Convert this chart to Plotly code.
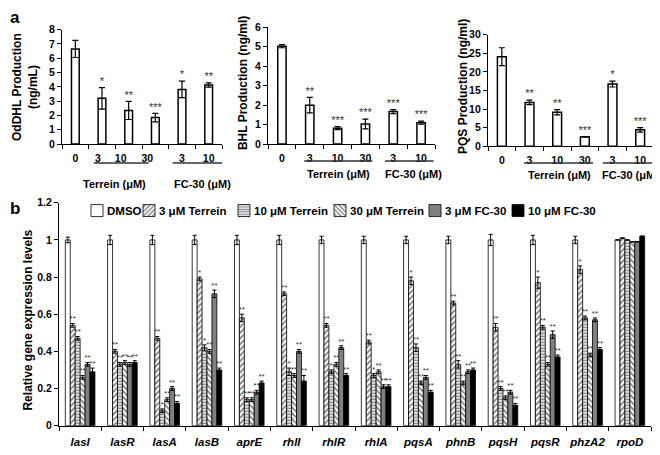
import plotly.graph_objects as go

FONT = "Liberation Sans, Arial, sans-serif"
# the page body has an 8px margin, so the figure is drawn 8px in from the corner
PAGE_W, PAGE_H, OFF = 660, 455, 8
W, H = PAGE_W - OFF, PAGE_H - OFF

# panel a: signal production
doses     = ["0", "3", "10", "30", "3", "10"]
oddhl     = [6.65, 3.20, 2.35, 1.85, 3.82, 4.13]
oddhl_err = [0.60, 0.75, 0.63, 0.30, 0.58, 0.15]
oddhl_sig = ["", "*", "**", "***", "*", "**"]
bhl       = [5.03, 2.00, 0.82, 1.03, 1.67, 1.10]
bhl_err   = [0.08, 0.40, 0.08, 0.25, 0.10, 0.08]
bhl_sig   = ["", "**", "***", "***", "***", "***"]
pqs       = [24.1, 11.8, 9.15, 2.55, 16.75, 4.45]
pqs_err   = [2.40, 0.60, 0.70, 0.10, 0.80, 0.60]
pqs_sig   = ["", "**", "**", "***", "*", "***"]

# panel b: relative gene expression
genes = ["lasI", "lasR", "lasA", "lasB", "aprE", "rhlI", "rhlR",
         "rhlA", "pqsA", "phnB", "pqsH", "pqsR", "phzA2", "rpoD"]
treatments = ["DMSO", "3 μM Terrein", "10 μM Terrein", "30 μM Terrein",
              "3 μM FC-30", "10 μM FC-30"]
dmso  = [1.00, 1.00, 1.00, 1.00, 1.00, 1.00, 1.00, 1.00, 1.00, 1.00, 1.00, 1.00, 1.00, 1.00]
t3    = [0.54, 0.40, 0.47, 0.79, 0.58, 0.71, 0.54, 0.45, 0.78, 0.66, 0.53, 0.77, 0.84, 1.01]
t10   = [0.47, 0.33, 0.08, 0.42, 0.14, 0.29, 0.29, 0.27, 0.42, 0.33, 0.20, 0.53, 0.58, 1.00]
t30   = [0.26, 0.34, 0.14, 0.40, 0.14, 0.27, 0.33, 0.29, 0.23, 0.23, 0.15, 0.33, 0.38, 0.99]
fc3   = [0.33, 0.33, 0.20, 0.71, 0.18, 0.40, 0.42, 0.21, 0.26, 0.29, 0.18, 0.49, 0.57, 0.99]
fc10  = [0.29, 0.34, 0.12, 0.30, 0.23, 0.24, 0.27, 0.21, 0.18, 0.30, 0.11, 0.37, 0.41, 1.02]
dmso_err = [0.015, 0.025, 0.025, 0.025, 0.025, 0.025, 0.02, 0.02, 0.02, 0.02, 0.03, 0.025, 0.02, 0]
t3_err   = [0.01, 0.01, 0.01, 0.01, 0.02, 0.01, 0.01, 0.01, 0.02, 0.01, 0.02, 0.03, 0.02, 0]
t10_err  = [0.01, 0.01, 0.01, 0.015, 0.01, 0.02, 0.01, 0.01, 0.02, 0.02, 0.01, 0.01, 0.01, 0]
t30_err  = [0.01, 0.01, 0.01, 0.01, 0.01, 0.01, 0.01, 0.01, 0.01, 0.01, 0.01, 0.01, 0.01, 0]
fc3_err  = [0.01, 0.01, 0.01, 0.02, 0.01, 0.01, 0.01, 0.01, 0.01, 0.01, 0.01, 0.02, 0.01, 0]
fc10_err = [0.02, 0.01, 0.01, 0.01, 0.01, 0.03, 0.01, 0.01, 0.01, 0.01, 0.01, 0.01, 0.01, 0]
dmso_sig = ["", "", "", "", "", "", "", "", "", "", "", "", "", ""]
t3_sig   = ["**", "**", "**", "*", "**", "**", "**", "**", "*", "**", "**", "*", "*", ""]
t10_sig  = ["**", "**", "*", "*", "**", "*", "*", "*", "**", "**", "**", "**", "**", ""]
t30_sig  = ["**", "**", "**", "**", "**", "**", "**", "**", "**", "**", "**", "**", "**", ""]
fc3_sig  = ["**", "**", "**", "**", "**", "**", "**", "**", "**", "**", "**", "**", "**", ""]
fc10_sig = ["**", "**", "**", "**", "**", "**", "**", "**", "**", "**", "**", "**", "**", ""]


def px_x(p):
    return (p - OFF) / W


def px_y(p):
    return 1 - (p - OFF) / H


fig = go.Figure()

# ---- panel a ----
panels = [
    (1, oddhl, oddhl_err, oddhl_sig, 0.29),
    (2, bhl, bhl_err, bhl_sig, 0.30),
    (3, pqs, pqs_err, pqs_sig, 0.32),
]
idx = list(range(len(doses)))
for n, vals, errs, sig, bw in panels:
    xa = "x" if n == 1 else f"x{n}"
    ya = "y" if n == 1 else f"y{n}"
    fig.add_trace(go.Bar(
        x=idx, y=vals, width=bw, xaxis=xa, yaxis=ya, showlegend=False,
        marker=dict(color="white", line=dict(color="black", width=1.5)),
        error_y=dict(type="data", array=errs, color="black", thickness=1.2, width=3),
    ))
    fig.add_trace(go.Scatter(
        x=idx, y=[v + e for v, e in zip(vals, errs)], text=sig, mode="text",
        textposition="top center", textfont=dict(family=FONT, size=11, color="#333"),
        xaxis=xa, yaxis=ya, showlegend=False, cliponaxis=False,
    ))

# ---- panel b ----
series = [
    (dmso, dmso_err, dmso_sig, dict(color="white")),
    (t3, t3_err, t3_sig, dict(color="white", pattern=dict(shape="/", fgcolor="black", size=4, solidity=0.45))),
    (t10, t10_err, t10_sig, dict(color="white", pattern=dict(shape="-", fgcolor="black", size=3, solidity=0.5))),
    (t30, t30_err, t30_sig, dict(color="white", pattern=dict(shape="\\", fgcolor="black", size=4, solidity=0.45))),
    (fc3, fc3_err, fc3_sig, dict(color="#808080")),
    (fc10, fc10_err, fc10_sig, dict(color="black")),
]
for k, (name, (vals, errs, sig, mk)) in enumerate(zip(treatments, series)):
    mk = dict(mk, line=dict(color="black", width=0.8))
    # legend entries carry only the swatch; their labels are annotations below
    fig.add_trace(go.Bar(
        x=genes, y=vals, name="", xaxis="x4", yaxis="y4", marker=mk, offsetgroup=name,
        legend="legend" if k == 0 else f"legend{k + 1}", hovertext=name,
        error_y=dict(type="data", array=errs, color="black", thickness=1, width=2),
    ))
    fig.add_trace(go.Scatter(
        x=genes, y=[v + e for v, e in zip(vals, errs)], text=sig, mode="text",
        textposition="top center", textfont=dict(family=FONT, size=8, color="#333"),
        xaxis="x4", yaxis="y4", showlegend=False, cliponaxis=False, offsetgroup=name,
    ))

tickfont = dict(family=FONT, size=10.5, color="black", weight="bold")
line_kw = dict(showline=True, linecolor="black", linewidth=1.3, showgrid=False, zeroline=False)


def xa_panel(dom, anchor, shift=(0, 0, 0, 0, 0, 0)):
    # shift nudges the dose labels, which sit a little left of the bars in panel 1
    return dict(
        domain=[px_x(dom[0]), px_x(dom[1])], anchor=anchor, range=[-0.5, 5.5],
        tickmode="array", tickvals=[i + s for i, s in zip(idx, shift)], ticktext=doses,
        ticks="", tickfont=tickfont, ticklabelstandoff=4, tickangle=0,
        minor=dict(tickmode="array", tickvals=[i - 0.5 for i in range(7)], ticks="outside",
                   ticklen=4, tickcolor="black", tickwidth=1.2),
        **line_kw,
    )


def ya_panel(dom, anchor, top, step):
    return dict(
        domain=[px_y(dom[0]), px_y(dom[1])], anchor=anchor, range=[0, top], dtick=step,
        ticks="outside", ticklen=4, tickcolor="black", tickwidth=1.2, tickfont=tickfont,
        **line_kw,
    )


fig.update_layout(
    width=W, height=H, margin=dict(l=0, r=0, t=0, b=0), autosize=False,
    paper_bgcolor="white", plot_bgcolor="white",
    font=dict(family=FONT, color="black"),
    barmode="group", bargap=0.3, scattermode="group", scattergap=0.3,
    xaxis=xa_panel((62, 222), "y", (0, -0.15, -0.3, -0.3, 0, 0)),
    yaxis=ya_panel((141.7, 24), "x", 8, 1),
    xaxis2=xa_panel((268, 435), "y2"),
    yaxis2=ya_panel((141.7, 21.7), "x2", 6, 1),
    xaxis3=xa_panel((488, 654), "y3"),
    yaxis3=ya_panel((144, 29.3), "x3", 30, 5),
    xaxis4=dict(
        domain=[px_x(59), px_x(651)], anchor="y4", type="category", tickson="boundaries",
        ticks="outside", ticklen=4, tickcolor="black", tickwidth=1.2, ticklabelstandoff=5,
        tickangle=0,
        tickfont=dict(family=FONT, size=11.5, color="black", weight="bold", style="italic"),
        **line_kw,
    ),
    yaxis4=dict(
        domain=[px_y(431), px_y(202)], anchor="x4", range=[0, 1.2], dtick=0.2,
        ticks="outside", ticklen=4, tickcolor="black", tickwidth=1.2, tickfont=tickfont,
        **line_kw,
    ),
)

# one legend per treatment so each swatch sits just left of its label
legend_x = [105, 157, 252, 348, 443, 526]
for k, tx in enumerate(legend_x):
    key = "legend" if k == 0 else f"legend{k + 1}"
    fig.update_layout({key: dict(
        x=px_x(tx - 28), y=px_y(210), xanchor="left", yanchor="middle",
        orientation="h", bgcolor="rgba(0,0,0,0)", borderwidth=0, itemwidth=30,
        font=dict(family=FONT, size=11, color="black"),
    )})
    fig.add_annotation(
        text=treatments[k], x=px_x(tx), y=px_y(210), xref="paper", yref="paper",
        showarrow=False, xanchor="left", yanchor="middle",
        font=dict(family=FONT, size=11.5, color="black", weight="bold"),
    )

# titles, group labels
ann = [
    ("OdDHL Production<br>(ng/mL)", 25, 83, -90, 12),
    ("BHL Production (ng/ml)", 243, 79, -90, 12),
    ("PQS Production (ng/ml)", 463, 83, -90, 12),
    ("Relative gene expression levels", 28, 323, -90, 12),
    ("Terrein (μM)", 114, 183, 0, 11),
    ("FC-30 (μM)", 202, 183, 0, 11),
    ("Terrein (μM)", 338, 172, 0, 11),
    ("FC-30 (μM)", 413, 172, 0, 11),
    ("Terrein (μM)", 559, 173, 0, 11),
    ("FC-30 (μM)", 630, 173, 0, 11),
]
for txt, x, y, ang, sz in ann:
    fig.add_annotation(
        text=txt, x=px_x(x), y=px_y(y), xref="paper", yref="paper", showarrow=False,
        textangle=ang, xanchor="center", yanchor="middle",
        font=dict(family=FONT, size=sz, color="black", weight="bold"),
    )

# panel letters, kept just inside the figure edge
for letter, y in [("a", 12), ("b", 208)]:
    fig.add_annotation(
        text=letter, x=0, y=px_y(y), xref="paper", yref="paper", showarrow=False,
        xanchor="left", yanchor="middle",
        font=dict(family=FONT, size=17, color="black", weight="bold"),
    )

# underlines below the dose labels
underlines = [
    ("x", 0.7, 2.75, 161), ("x", 3.65, 5.5, 161),
    ("x2", 0.8, 3.25, 159), ("x2", 3.7, 5.45, 159),
    ("x3", 0.8, 3.3, 161), ("x3", 3.65, 5.6, 161),
]
for xr, x0, x1, y in underlines:
    fig.add_shape(type="line", xref=xr, yref="paper", x0=x0, x1=x1,
                  y0=px_y(y), y1=px_y(y), line=dict(color="#333", width=1.5))

fig.write_html("out.html")
